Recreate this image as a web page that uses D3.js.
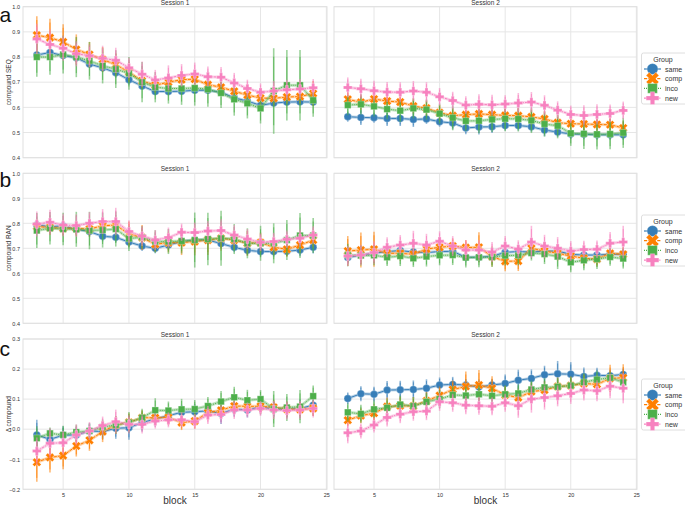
<!DOCTYPE html>
<html><head><meta charset="utf-8">
<script src="https://cdn.jsdelivr.net/npm/d3@7"></script>
<style>body{margin:0;background:#fff}svg{display:block;font-family:"Liberation Sans",Arial,sans-serif}</style>
</head><body><svg id="c" width="685" height="506"></svg>
<script>
const blocks = d3.range(3, 25);
const groups = ["same", "comp", "inco", "new"];
const colors = ["#377eb8", "#ff7f00", "#4daf4a", "#f781bf"];
const sessions = ["Session 1", "Session 2"];
const xTicks = [5, 10, 15, 20, 25];
const seqTicks = [0.4, 0.5, 0.6, 0.7, 0.8, 0.9, 1.0];
const ranTicks = [0.4, 0.5, 0.6, 0.7, 0.8, 0.9, 1.0];
const deltaTicks = [-0.2, -0.1, 0.0, 0.1, 0.2, 0.3];

// ---- Row a: compound SEQ ----
const seqS1_same = [0.808,0.818,0.806,0.797,0.772,0.757,0.738,0.71,0.685,0.663,0.663,0.664,0.668,0.668,0.66,0.638,0.625,0.608,0.617,0.621,0.622,0.621];
const seqS1_comp = [0.887,0.877,0.86,0.83,0.81,0.79,0.77,0.74,0.705,0.688,0.70,0.71,0.712,0.69,0.68,0.664,0.649,0.637,0.636,0.641,0.643,0.655];
const seqS1_inco = [0.80,0.80,0.81,0.80,0.785,0.765,0.752,0.735,0.70,0.68,0.675,0.675,0.677,0.672,0.657,0.632,0.616,0.596,0.665,0.688,0.688,0.628];
const seqS1_new  = [0.872,0.85,0.835,0.813,0.805,0.795,0.787,0.757,0.732,0.709,0.717,0.727,0.733,0.722,0.72,0.697,0.675,0.66,0.665,0.67,0.673,0.678];
const seqS1_same_err = [0.015,0.015,0.015,0.015,0.015,0.015,0.02,0.02,0.015,0.015,0.015,0.015,0.015,0.015,0.015,0.015,0.015,0.02,0.015,0.015,0.015,0.015];
const seqS1_comp_err = [0.075,0.075,0.07,0.06,0.05,0.05,0.045,0.04,0.03,0.03,0.03,0.03,0.03,0.03,0.03,0.03,0.03,0.03,0.03,0.03,0.03,0.05];
const seqS1_inco_err = [0.078,0.07,0.075,0.08,0.075,0.07,0.075,0.065,0.08,0.06,0.06,0.065,0.07,0.07,0.06,0.065,0.06,0.06,0.17,0.14,0.14,0.065];
const seqS1_new_err  = [0.06,0.06,0.05,0.05,0.045,0.05,0.05,0.04,0.05,0.04,0.05,0.045,0.045,0.04,0.04,0.04,0.035,0.035,0.04,0.04,0.04,0.035];

const seqS2_same = [0.563,0.56,0.559,0.556,0.556,0.552,0.554,0.543,0.538,0.518,0.522,0.523,0.528,0.528,0.523,0.51,0.502,0.494,0.493,0.491,0.491,0.491];
const seqS2_comp = [0.632,0.62,0.633,0.625,0.621,0.605,0.597,0.579,0.567,0.571,0.574,0.571,0.568,0.567,0.562,0.554,0.539,0.535,0.534,0.532,0.531,0.518];
const seqS2_inco = [0.609,0.612,0.604,0.593,0.587,0.596,0.591,0.575,0.559,0.546,0.547,0.552,0.555,0.554,0.548,0.534,0.527,0.497,0.495,0.493,0.494,0.499];
const seqS2_new  = [0.679,0.674,0.666,0.661,0.66,0.665,0.66,0.642,0.627,0.609,0.612,0.61,0.613,0.617,0.621,0.608,0.589,0.572,0.568,0.572,0.576,0.588];
const seqS2_same_err = [0.02,0.03,0.02,0.03,0.03,0.03,0.02,0.02,0.025,0.025,0.03,0.025,0.02,0.02,0.02,0.025,0.02,0.02,0.02,0.02,0.02,0.02];
const seqS2_comp_err = [0.03,0.03,0.04,0.03,0.03,0.03,0.03,0.03,0.03,0.03,0.03,0.03,0.03,0.03,0.03,0.03,0.03,0.03,0.03,0.03,0.03,0.03];
const seqS2_inco_err = [0.04,0.04,0.04,0.04,0.045,0.04,0.04,0.04,0.05,0.04,0.05,0.05,0.05,0.05,0.05,0.05,0.05,0.05,0.06,0.06,0.06,0.06];
const seqS2_new_err  = [0.04,0.04,0.04,0.04,0.04,0.04,0.04,0.035,0.035,0.035,0.04,0.04,0.035,0.04,0.04,0.04,0.035,0.035,0.04,0.04,0.035,0.035];

// ---- Row b: compound RAN ----
const ranS1_same = [0.793,0.787,0.789,0.776,0.767,0.748,0.744,0.725,0.709,0.70,0.713,0.727,0.733,0.733,0.719,0.704,0.692,0.687,0.687,0.688,0.693,0.704];
const ranS1_comp = [0.787,0.783,0.78,0.78,0.777,0.79,0.793,0.757,0.743,0.716,0.723,0.723,0.727,0.733,0.74,0.733,0.72,0.723,0.704,0.696,0.713,0.733];
const ranS1_inco = [0.771,0.78,0.777,0.776,0.771,0.773,0.777,0.739,0.744,0.727,0.727,0.729,0.733,0.737,0.74,0.737,0.72,0.72,0.72,0.733,0.751,0.751];
const ranS1_new  = [0.797,0.804,0.793,0.791,0.8,0.807,0.807,0.767,0.749,0.733,0.743,0.764,0.763,0.769,0.771,0.753,0.737,0.724,0.727,0.736,0.74,0.753];
const ranS1_same_err = [0.02,0.02,0.02,0.02,0.02,0.02,0.02,0.02,0.02,0.02,0.02,0.02,0.02,0.02,0.02,0.02,0.02,0.02,0.02,0.02,0.025,0.025];
const ranS1_comp_err = [0.03,0.03,0.03,0.03,0.03,0.03,0.03,0.05,0.05,0.03,0.04,0.05,0.055,0.06,0.05,0.04,0.05,0.04,0.03,0.03,0.03,0.03];
const ranS1_inco_err = [0.07,0.065,0.065,0.07,0.075,0.07,0.07,0.05,0.045,0.045,0.05,0.05,0.11,0.105,0.11,0.06,0.06,0.07,0.08,0.08,0.09,0.07];
const ranS1_new_err  = [0.05,0.05,0.045,0.045,0.045,0.05,0.055,0.045,0.04,0.04,0.04,0.035,0.04,0.04,0.045,0.04,0.04,0.035,0.035,0.035,0.035,0.035];

const ranS2_same = [0.663,0.673,0.68,0.687,0.691,0.685,0.683,0.687,0.688,0.664,0.664,0.668,0.684,0.687,0.685,0.689,0.689,0.676,0.673,0.673,0.676,0.676];
const ranS2_comp = [0.689,0.693,0.696,0.68,0.68,0.676,0.697,0.704,0.709,0.703,0.704,0.667,0.648,0.649,0.70,0.689,0.68,0.669,0.66,0.657,0.68,0.676];
const ranS2_inco = [0.673,0.671,0.672,0.664,0.669,0.66,0.667,0.672,0.673,0.663,0.664,0.665,0.671,0.672,0.681,0.677,0.667,0.644,0.652,0.657,0.665,0.659];
const ranS2_new  = [0.669,0.673,0.683,0.704,0.713,0.72,0.713,0.728,0.709,0.693,0.693,0.685,0.709,0.697,0.725,0.709,0.70,0.689,0.695,0.696,0.72,0.725];
const ranS2_same_err = [0.02,0.02,0.02,0.02,0.02,0.02,0.02,0.02,0.02,0.02,0.02,0.02,0.02,0.02,0.02,0.02,0.02,0.02,0.02,0.02,0.02,0.02];
const ranS2_comp_err = [0.06,0.07,0.07,0.03,0.03,0.03,0.03,0.03,0.03,0.03,0.06,0.04,0.04,0.04,0.03,0.03,0.03,0.03,0.03,0.03,0.03,0.03];
const ranS2_inco_err = [0.045,0.04,0.04,0.035,0.04,0.035,0.04,0.04,0.04,0.04,0.04,0.04,0.04,0.04,0.03,0.04,0.05,0.04,0.04,0.04,0.035,0.04];
const ranS2_new_err  = [0.04,0.04,0.045,0.04,0.04,0.05,0.045,0.04,0.04,0.04,0.04,0.04,0.04,0.035,0.065,0.045,0.045,0.04,0.035,0.035,0.045,0.065];

// ---- Row c: delta compound ----
const delS1_same = [-0.019,-0.034,-0.02,-0.019,-0.006,-0.008,0.003,0.005,0.022,0.034,0.045,0.056,0.058,0.061,0.052,0.067,0.064,0.074,0.067,0.066,0.069,0.08];
const delS1_comp = [-0.11,-0.094,-0.088,-0.056,-0.037,-0.008,0.014,0.023,0.038,0.038,0.039,0.022,0.027,0.055,0.063,0.077,0.076,0.076,0.073,0.067,0.066,0.069];
const delS1_inco = [-0.03,-0.014,-0.019,-0.01,-0.006,0.007,0.014,0.022,0.038,0.063,0.062,0.066,0.067,0.077,0.092,0.106,0.096,0.1,0.067,0.072,0.075,0.11];
const delS1_new  = [-0.073,-0.047,-0.045,-0.019,-0.006,0.012,0.025,0.016,0.016,0.027,0.031,0.031,0.025,0.047,0.049,0.064,0.064,0.069,0.064,0.062,0.064,0.069];
const delS1_same_err = [0.05,0.035,0.03,0.025,0.025,0.025,0.035,0.04,0.03,0.025,0.025,0.025,0.025,0.025,0.035,0.025,0.025,0.025,0.025,0.025,0.03,0.035];
const delS1_comp_err = [0.065,0.05,0.045,0.035,0.035,0.035,0.03,0.03,0.025,0.025,0.025,0.025,0.025,0.025,0.025,0.025,0.025,0.025,0.025,0.025,0.025,0.025];
const delS1_inco_err = [0.04,0.02,0.03,0.025,0.025,0.025,0.03,0.035,0.03,0.04,0.03,0.035,0.03,0.03,0.035,0.035,0.035,0.03,0.06,0.045,0.055,0.035];
const delS1_new_err  = [0.045,0.05,0.04,0.035,0.03,0.03,0.04,0.03,0.03,0.025,0.025,0.025,0.025,0.03,0.03,0.03,0.025,0.025,0.03,0.03,0.03,0.03];

const delS2_same = [0.102,0.118,0.116,0.13,0.131,0.132,0.136,0.147,0.149,0.147,0.14,0.147,0.152,0.163,0.169,0.181,0.184,0.183,0.175,0.179,0.178,0.182];
const delS2_comp = [0.03,0.045,0.053,0.075,0.078,0.077,0.094,0.112,0.132,0.142,0.147,0.136,0.114,0.105,0.125,0.13,0.142,0.145,0.152,0.149,0.169,0.171];
const delS2_inco = [0.056,0.051,0.066,0.071,0.082,0.077,0.091,0.1,0.114,0.112,0.116,0.111,0.116,0.119,0.132,0.139,0.141,0.145,0.156,0.165,0.171,0.156];
const delS2_new  = [-0.012,-0.006,0.014,0.039,0.05,0.058,0.06,0.091,0.088,0.08,0.078,0.076,0.088,0.078,0.1,0.105,0.111,0.119,0.13,0.128,0.143,0.136];
const delS2_same_err = [0.02,0.025,0.025,0.03,0.03,0.03,0.03,0.025,0.025,0.02,0.025,0.02,0.03,0.035,0.03,0.03,0.043,0.04,0.03,0.025,0.02,0.02];
const delS2_comp_err = [0.02,0.025,0.03,0.03,0.03,0.03,0.03,0.03,0.03,0.05,0.05,0.04,0.03,0.03,0.03,0.03,0.03,0.03,0.03,0.03,0.045,0.045];
const delS2_inco_err = [0.03,0.03,0.03,0.03,0.03,0.03,0.03,0.03,0.03,0.03,0.03,0.03,0.03,0.03,0.03,0.03,0.03,0.03,0.03,0.03,0.02,0.02];
const delS2_new_err  = [0.035,0.025,0.025,0.03,0.03,0.03,0.03,0.03,0.03,0.03,0.03,0.03,0.03,0.04,0.045,0.04,0.035,0.035,0.035,0.035,0.04,0.05];

const rowsData = [
  {letter:"a", label:"compound SEQ", domain:[0.4,1.0], ticks:seqTicks, fmt:d3.format(".1f"),
   series:[[seqS1_same,seqS1_comp,seqS1_inco,seqS1_new],[seqS2_same,seqS2_comp,seqS2_inco,seqS2_new]],
   errs:[[seqS1_same_err,seqS1_comp_err,seqS1_inco_err,seqS1_new_err],[seqS2_same_err,seqS2_comp_err,seqS2_inco_err,seqS2_new_err]]},
  {letter:"b", label:"compound RAN", domain:[0.4,1.0], ticks:ranTicks, fmt:d3.format(".1f"),
   series:[[ranS1_same,ranS1_comp,ranS1_inco,ranS1_new],[ranS2_same,ranS2_comp,ranS2_inco,ranS2_new]],
   errs:[[ranS1_same_err,ranS1_comp_err,ranS1_inco_err,ranS1_new_err],[ranS2_same_err,ranS2_comp_err,ranS2_inco_err,ranS2_new_err]]},
  {letter:"c", label:"Δ compound", domain:[-0.2,0.3], ticks:deltaTicks, fmt:d3.format(".1f"),
   series:[[delS1_same,delS1_comp,delS1_inco,delS1_new],[delS2_same,delS2_comp,delS2_inco,delS2_new]],
   errs:[[delS1_same_err,delS1_comp_err,delS1_inco_err,delS1_new_err],[delS2_same_err,delS2_comp_err,delS2_inco_err,delS2_new_err]]}
];

// layout
const colX = [[23, 327], [334, 637]];
const rowY = [[6.7, 157.7], [173.3, 323.3], [339, 489.3]];
const letterY = [22, 187, 356];
const legendY = [53, 215, 379];
const dashes = [null, "3.2,1.2", "1,1", "2.6,1,1.2,1"];

const svg = d3.select("#c");
const gridColor = "#e6e6e6";
const textColor = "#333";

// marker shapes
function plusPath(L, w) {
  return `M${w},${-L}L${w},${-w}L${L},${-w}L${L},${w}L${w},${w}L${w},${L}L${-w},${L}L${-w},${w}L${-L},${w}L${-L},${-w}L${-w},${-w}L${-w},${-L}Z`;
}
function markerPath(i, s) {
  if (i === 0) return d3.symbol(d3.symbolCircle, Math.PI * s * s / 4)();
  if (i === 1) return plusPath(s * 0.62, s * 0.2);
  if (i === 2) { const h = s * 0.44; return `M${-h},${-h}L${h},${-h}L${h},${h}L${-h},${h}Z`; }
  return plusPath(s * 0.58, s * 0.2);
}
function drawMarker(g, i, x, y, s) {
  g.append("path").attr("d", markerPath(i, s))
    .attr("transform", `translate(${x},${y})` + (i === 1 ? " rotate(45)" : ""))
    .attr("fill", colors[i]).attr("stroke", "#fff").attr("stroke-width", 0.4).attr("stroke-opacity", 0.7);
}

rowsData.forEach((row, r) => {
  const [y0, y1] = rowY[r];
  const y = d3.scaleLinear().domain(row.domain).range([y1, y0]);
  [0, 1].forEach(c => {
    const [x0, x1] = colX[c];
    const x = d3.scaleLinear().domain([1.95, 25.05]).range([x0, x1]);
    const g = svg.append("g");
    // grid
    g.selectAll(".gy").data(row.ticks).join("line")
      .attr("x1", x0).attr("x2", x1).attr("y1", d => y(d)).attr("y2", d => y(d))
      .attr("stroke", gridColor).attr("stroke-width", 1);
    g.selectAll(".gx").data(xTicks).join("line")
      .attr("x1", d => x(d)).attr("x2", d => x(d)).attr("y1", y0).attr("y2", y1)
      .attr("stroke", gridColor).attr("stroke-width", 1);
    g.append("rect").attr("x", x0).attr("y", y0).attr("width", x1 - x0).attr("height", y1 - y0)
      .attr("fill", "none").attr("stroke", "#e0e0e0").attr("stroke-width", 1);
    // title
    g.append("text").attr("x", (x0 + x1) / 2).attr("y", y0 - 2).attr("text-anchor", "middle")
      .attr("font-size", 6.5).attr("fill", textColor).text(sessions[c]);
    // y axis labels
    if (c === 0) {
      const ya = d3.axisLeft(y).tickValues(row.ticks).tickSize(0).tickPadding(3)
        .tickFormat(d => row.fmt(d).replace("-", "\u2212"));
      const ag = g.append("g").attr("transform", `translate(${x0},0)`).call(ya);
      ag.select(".domain").remove();
      ag.selectAll("text").attr("font-size", 5.5).attr("fill", textColor).attr("font-family", "Liberation Sans, Arial, sans-serif");
      g.append("text").attr("transform", `translate(11,${(y0 + y1) / 2}) rotate(-90)`)
        .attr("text-anchor", "middle").attr("font-size", 6.5).attr("fill", textColor).text(row.label);
      g.append("text").attr("x", -0.5).attr("y", letterY[r]).attr("font-size", 21).attr("fill", "#111").text(row.letter);
    }
    if (r === 2) {
      const xa = d3.axisBottom(x).tickValues(xTicks).tickSize(0).tickPadding(4);
      const ag = g.append("g").attr("transform", `translate(0,${y1})`).call(xa);
      ag.select(".domain").remove();
      ag.selectAll("text").attr("font-size", 5.5).attr("fill", textColor).attr("font-family", "Liberation Sans, Arial, sans-serif");
      g.append("text").attr("x", (x0 + x1) / 2).attr("y", 504).attr("text-anchor", "middle")
        .attr("font-size", 10).attr("fill", textColor).text("block");
    }
    // series
    groups.forEach((grp, i) => {
      const vals = row.series[c][i];
      const errs = row.errs[c][i];
      const pts = blocks.map((b, k) => ({b, v: vals[k], e: errs[k]}));
      const line = d3.line().x(d => x(d.b)).y(d => y(d.v));
      g.append("path").datum(pts).attr("d", line).attr("fill", "none")
        .attr("stroke", colors[i]).attr("stroke-width", 3).attr("stroke-opacity", 0.35);
      g.append("path").datum(pts).attr("d", line).attr("fill", "none")
        .attr("stroke", colors[i]).attr("stroke-width", 1)
        .attr("stroke-dasharray", dashes[i]);
      g.selectAll(null).data(pts).join("line")
        .attr("x1", d => x(d.b)).attr("x2", d => x(d.b))
        .attr("y1", d => y(d.v - d.e)).attr("y2", d => y(d.v + d.e))
        .attr("stroke", colors[i]).attr("stroke-width", 1.6).attr("stroke-opacity", 0.55);
      g.selectAll(null).data(pts).join("line")
        .attr("x1", d => x(d.b)).attr("x2", d => x(d.b))
        .attr("y1", d => y(d.v - d.e * 0.8)).attr("y2", d => y(d.v + d.e * 0.8))
        .attr("stroke", colors[i]).attr("stroke-width", 0.9).attr("stroke-opacity", 0.8);
      pts.forEach(d => drawMarker(g, i, x(d.b), y(d.v), 7.5));
    });
  });
  // legend
  const ly = legendY[r];
  const lg = svg.append("g");
  lg.append("rect").attr("x", 641.5).attr("y", ly).attr("width", 48).attr("height", 51)
    .attr("rx", 2).attr("fill", "#fff").attr("stroke", "#d5d5d5").attr("stroke-width", 0.8);
  lg.append("text").attr("x", 663).attr("y", ly + 9).attr("text-anchor", "middle")
    .attr("font-size", 7).attr("fill", textColor).text("Group");
  groups.forEach((grp, i) => {
    const yy = ly + 16 + i * 9.7;
    lg.append("line").attr("x1", 644).attr("x2", 661).attr("y1", yy).attr("y2", yy)
      .attr("stroke", colors[i]).attr("stroke-width", 1.2).attr("stroke-dasharray", dashes[i]);
    drawMarker(lg, i, 652.5, yy, 11);
    lg.append("text").attr("x", 665).attr("y", yy + 2.5).attr("font-size", 7).attr("fill", textColor).text(grp);
  });
});
</script></body></html>
